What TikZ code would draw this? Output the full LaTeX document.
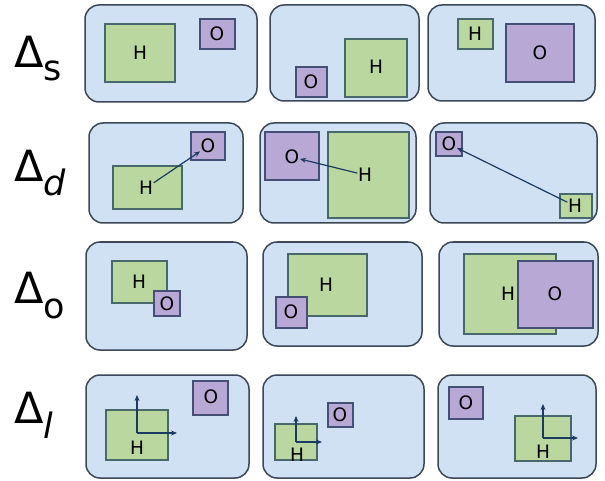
\documentclass[tikz,border=0pt]{standalone}
\usepackage{fontspec}
\setmainfont{DejaVu Sans}
\usetikzlibrary{arrows.meta}

\definecolor{panelfill}{RGB}{207,225,242}
\definecolor{paneldraw}{RGB}{58,72,88}
\definecolor{hfill}{RGB}{186,215,160}
\definecolor{hdraw}{RGB}{72,104,108}
\definecolor{ofill}{RGB}{184,168,214}
\definecolor{odraw}{RGB}{70,80,118}
\definecolor{vecblue}{RGB}{28,58,98}

\begin{document}
\begin{tikzpicture}[x=1pt,y=-1pt,
		panel/.style={draw=paneldraw,fill=panelfill,line width=1.5,rounded corners=14},
		hbox/.style={draw=hdraw,fill=hfill,line width=1.3},
		obox/.style={draw=odraw,fill=ofill,line width=1.3},
		lab/.style={inner sep=0.5pt,font=\fontsize{18.5}{18.5}\selectfont},
		dlab/.style={anchor=base west,inner sep=0pt,font=\fontsize{43}{43}\selectfont},
		vec/.style={arrows=-{Stealth[length=6,width=5]},draw=vecblue,line width=1.2}]
		\useasboundingbox (0,0) rectangle (605,481);
		% Delta labels
		\node [dlab] (ds) at (14,68) {Δ\raisebox{-13pt}{\fontsize{35}{35}\selectfont s}};
		\node [dlab] (dd) at (14,182) {Δ\raisebox{-14pt}{\fontsize{35}{35}\selectfont\itshape d}};
		\node [dlab] (do) at (14,303) {Δ\raisebox{-15pt}{\fontsize{35}{35}\selectfont o}};
		\node [dlab] (dl) at (14,423) {Δ\raisebox{-15pt}{\fontsize{35}{35}\selectfont\itshape l}};
		% Row s
		\draw [panel] (85,5) rectangle (257,102);
		\draw [hbox] (105,24) rectangle (175,82);\node [lab] (hs1) at (140,53) {H};
		\draw [obox] (200,19) rectangle (235,49);\node [lab] (os1) at (217,34) {O};
		\draw [panel] (270,5) rectangle (419,101);
		\draw [obox] (296,67) rectangle (327,97);\node [lab] (os2) at (311,82) {O};
		\draw [hbox] (345,39) rectangle (407,97);\node [lab] (hs2) at (376,67) {H};
		\draw [panel] (428,5) rectangle (595,101);
		\draw [hbox] (458,19) rectangle (493,49);\node [lab] (hs3) at (475,34) {H};
		\draw [obox] (506,24) rectangle (574,82);\node [lab] (os3) at (540,53) {O};
		% Row d
		\draw [panel] (89,123) rectangle (243,223);
		\draw [hbox] (113,166) rectangle (182,209);\node [lab] (hd1) at (146,188) {H};
		\draw [obox] (191,132) rectangle (225,160);\node [lab] (od1) at (208,146) {O};
		\draw [vec] (hd1) -- (od1);
		\draw [panel] (260,123) rectangle (416,223);
		\draw [obox] (265,132) rectangle (319,180);\node [lab] (od2) at (292,157) {O};
		\draw [hbox] (328,132) rectangle (409,218);\node [lab] (hd2) at (365,175) {H};
		\draw [vec] (hd2) -- (od2);
		\draw [panel] (430,123) rectangle (597,223);
		\draw [obox] (436,132) rectangle (462,156);\node [lab] (od3) at (449,144) {O};
		\draw [hbox] (560,194) rectangle (592,218);\node [lab] (hd3) at (575,206) {H};
		\draw [vec] (hd3) -- (od3);
		% Row o
		\draw [panel] (86,242) rectangle (247,350);
		\draw [hbox] (112,261) rectangle (167,303);\node [lab] (ho1) at (139,282) {H};
		\draw [obox] (154,291) rectangle (180,316);\node [lab] (oo1) at (167,304) {O};
		\draw [panel] (263,242) rectangle (422,346);
		\draw [hbox] (288,254) rectangle (367,316);\node [lab] (ho2) at (326,285) {H};
		\draw [obox] (276,297) rectangle (307,328);\node [lab] (oo2) at (291,312) {O};
		\draw [panel] (439,242) rectangle (598,346);
		\draw [hbox] (464,254) rectangle (556,334);\node [lab] (ho3) at (508,294) {H};
		\draw [obox] (518,261) rectangle (593,328);\node [lab] (oo3) at (555,294) {O};
		% Row l
		\draw [panel] (86,375) rectangle (249,478);
		\draw [hbox] (106,410) rectangle (168,460);\node [lab] (hl1) at (137,448) {H};
		\draw [obox] (193,381) rectangle (228,415);\node [lab] (ol1) at (211,397) {O};
		\coordinate (a1) at (137,433);\coordinate (ay1) at (137,395);\coordinate (ax1) at (177,433);
		\draw [vec] (a1) -- (ay1);\draw [vec] (a1) -- (ax1);
		\draw [panel] (263,375) rectangle (424,478);
		\draw [hbox] (275,424) rectangle (317,460);\node [lab] (hl2) at (297,455) {H};
		\draw [obox] (328,403) rectangle (353,427);\node [lab] (ol2) at (340,415) {O};
		\coordinate (a2) at (296,442);\coordinate (ay2) at (296,416);\coordinate (ax2) at (322,442);
		\draw [vec] (a2) -- (ay2);\draw [vec] (a2) -- (ax2);
		\draw [panel] (438,375) rectangle (596,478);
		\draw [obox] (449,387) rectangle (483,419);\node [lab] (ol3) at (466,403) {O};
		\draw [hbox] (515,416) rectangle (571,461);\node [lab] (hl3) at (543,452) {H};
		\coordinate (a3) at (543,438);\coordinate (ay3) at (543,404);\coordinate (ax3) at (578,438);
		\draw [vec] (a3) -- (ay3);\draw [vec] (a3) -- (ax3);
	\end{tikzpicture}
\end{document}
